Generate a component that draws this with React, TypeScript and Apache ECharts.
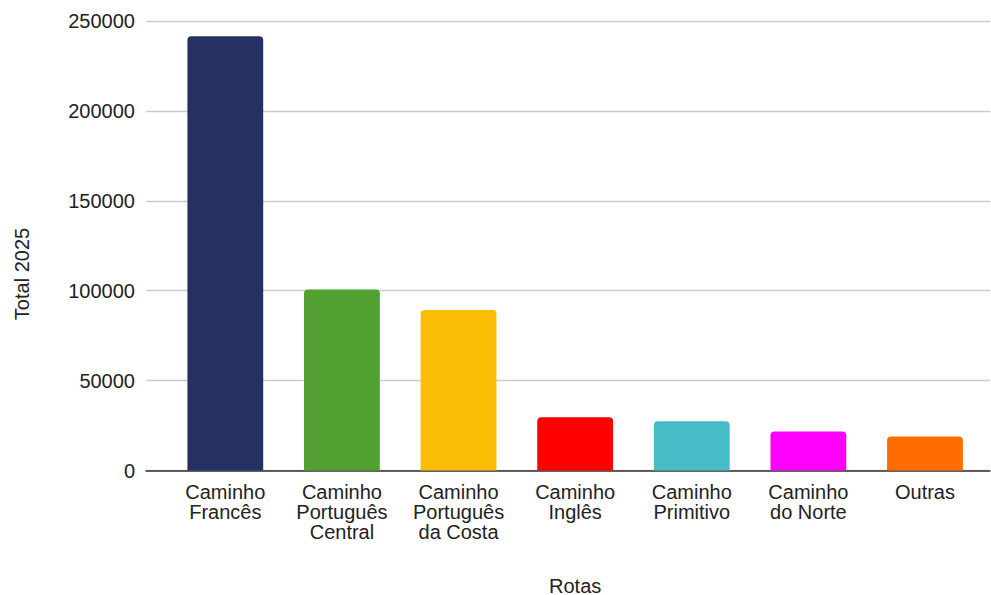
import React, { useEffect, useRef } from "react";
import * as echarts from "echarts";

const categories = [
  "Caminho\nFrancês",
  "Caminho\nPortuguês\nCentral",
  "Caminho\nPortuguês\nda Costa",
  "Caminho\nInglês",
  "Caminho\nPrimitivo",
  "Caminho\ndo Norte",
  "Outras",
];
const values = [241500, 100700, 89200, 29600, 27400, 21700, 18900];
const barColors = ["#273063", "#53a032", "#fbbc04", "#ff0000", "#46bdc6", "#ff00ff", "#ff6d01"];
const yTicks = { min: 0, max: 250000, interval: 50000 };
const xName = "Rotas";
const yName = "Total 2025";

const FONT = "'Liberation Sans', Arial, sans-serif";

export default function App() {
  const ref = useRef<HTMLDivElement>(null);
  useEffect(() => {
    if (!ref.current) return;
    const chart = echarts.init(ref.current, null, { renderer: "svg" });
    chart.setOption({
      animation: false,
      backgroundColor: "#ffffff",
      textStyle: { fontFamily: FONT },
      grid: [
        { left: 167, right: 7.7, top: 21, bottom: 124.5, containLabel: false, outerBoundsMode: "none" },
        { left: 146, right: 1, top: 21, bottom: 124.5, containLabel: false, outerBoundsMode: "none" },
      ],
      xAxis: [
        {
          type: "category",
          gridIndex: 0,
          data: categories,
          axisLine: { show: false },
          axisTick: { show: false },
          axisLabel: {
            interval: 0,
            margin: 11,
            fontSize: 20,
            lineHeight: 20,
            color: "#222222",
            fontFamily: FONT,
          },
          name: xName,
          nameLocation: "middle",
          nameGap: 105,
          nameTextStyle: { fontSize: 20, color: "#222222", fontFamily: FONT },
        },
        {
          type: "category",
          gridIndex: 1,
          data: [""],
          axisLine: { show: true, lineStyle: { color: "#333333", width: 1.5 } },
          axisTick: { show: false },
          axisLabel: { show: false },
        },
      ],
      yAxis: [
        {
          type: "value",
          gridIndex: 0,
          ...yTicks,
          axisLine: { show: false },
          axisTick: { show: false },
          axisLabel: { show: false },
          splitLine: { show: false },
        },
        {
          type: "value",
          gridIndex: 1,
          ...yTicks,
          axisLine: { show: false },
          axisTick: { show: false },
          axisLabel: {
            margin: 11,
            fontSize: 20,
            color: "#222222",
            fontFamily: FONT,
            formatter: (v: number) => String(v),
          },
          splitLine: { show: true, lineStyle: { color: "#cccccc", width: 1.3 } },
        },
      ],
      graphic: [
        {
          type: "text",
          x: 22,
          y: 274,
          rotation: Math.PI / 2,
          style: {
            text: yName,
            fontSize: 20,
            fill: "#222222",
            fontFamily: FONT,
            align: "center",
            verticalAlign: "middle",
          },
        },
      ],
      series: [
        {
          type: "bar",
          xAxisIndex: 0,
          yAxisIndex: 0,
          barCategoryGap: "35%",
          data: values.map((v, i) => ({
            value: v,
            itemStyle: { color: barColors[i], borderRadius: [4, 4, 0, 0] },
          })),
          z: 3,
        },
      ],
    });
    return () => chart.dispose();
  }, []);
  return (
    <div
      ref={ref}
      style={{ position: "fixed", left: 0, top: 0, width: 991, height: 595 }}
    />
  );
}
